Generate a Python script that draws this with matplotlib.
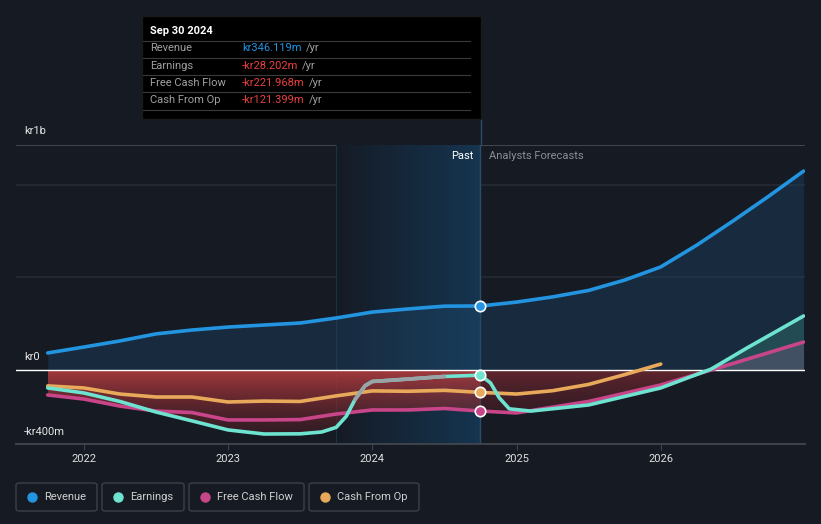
import numpy as np
import matplotlib
matplotlib.use("Agg")
import matplotlib.pyplot as plt
from matplotlib.patches import Rectangle, FancyBboxPatch, Polygon
from matplotlib.lines import Line2D
from matplotlib.colors import LinearSegmentedColormap

plt.rcParams['font.family'] = ['Roboto', 'DejaVu Sans']

# ---- data (kr millions, x in decimal years) ----
rev_x = [2021.75, 2022.0, 2022.25, 2022.5, 2022.75, 2023.0, 2023.25, 2023.5, 2023.75,
         2024.0, 2024.25, 2024.5, 2024.75, 2025.0, 2025.25, 2025.5, 2025.75, 2026.0,
         2026.25, 2026.5, 2026.75, 2026.99]
rev_y = [92, 124, 157, 195, 216, 232, 243, 254, 281, 313, 330, 345, 346, 367, 395, 430,
         486, 557, 675, 805, 940, 1075]

earn_x = [2021.75, 2022.0, 2022.25, 2022.5, 2022.75, 2023.0, 2023.25, 2023.5, 2023.65,
          2023.75, 2023.82, 2023.88, 2023.95, 2024.0, 2024.25, 2024.5, 2024.75, 2024.82,
          2024.88, 2024.95, 2025.1, 2025.5, 2026.0, 2026.35, 2026.6, 2026.99]
earn_y = [-97, -124, -170, -227, -275, -324, -346, -345, -335, -310, -250, -160, -85, -62,
          -49, -35, -28, -70, -150, -210, -222, -189, -97, 5, 120, 292]

fcf_x = [2021.75, 2022.0, 2022.25, 2022.5, 2022.75, 2023.0, 2023.25, 2023.5, 2023.75,
         2024.0, 2024.25, 2024.5, 2024.75, 2025.0, 2025.5, 2026.0, 2026.5, 2026.99]
fcf_y = [-135, -157, -195, -222, -230, -270, -270, -268, -238, -216, -216, -208, -222,
         -232, -170, -81, 35, 151]

cfo_x = [2021.75, 2022.0, 2022.25, 2022.5, 2022.75, 2023.0, 2023.25, 2023.5, 2023.75,
         2024.0, 2024.25, 2024.5, 2024.75, 2025.0, 2025.25, 2025.5, 2025.75, 2026.0]
cfo_y = [-86, -97, -130, -146, -146, -173, -168, -170, -140, -113, -115, -110, -121,
         -130, -112, -78, -25, 32]

past_start, past_end = 2023.75, 2024.75
year_ticks = [2022, 2023, 2024, 2025, 2026]

tip_date = "Sep 30 2024"
tip_rows = [("Revenue", "kr346.119m", "#2394e0"),
            ("Earnings", "-kr28.202m", "#e8403f"),
            ("Free Cash Flow", "-kr221.968m", "#e8403f"),
            ("Cash From Op", "-kr121.399m", "#e8403f")]

C_REV, C_EARN, C_FCF, C_CFO = "#2394e0", "#6de3d0", "#c8458a", "#e8aa5a"
BG = "#151a23"

W, H = 821, 524
fig = plt.figure(figsize=(W / 100, H / 100), dpi=100, facecolor=BG)

def fx(px):
    return px / W

def fy(py):
    return 1 - py / H

ax = fig.add_axes([fx(16), fy(444), fx(805) - fx(16), fy(145) - fy(444)])
ax.set_facecolor(BG)
ax.set_xlim(2021.53, 2027.0)
ax.set_ylim(-400, 1216)
for s in ax.spines.values():
    s.set_visible(False)

# gridlines
ax.axhline(1216, color="#4a4e56", lw=1.2, zorder=1)
for g in [1000, 500]:
    ax.axhline(g, color="#252b35", lw=1.2, zorder=1)

# past shaded region (horizontal gradient)
grad = np.linspace(0, 1, 256).reshape(1, -1)
cm_past = LinearSegmentedColormap.from_list("p", ["#151b25", "#163550"])
ax.imshow(grad, extent=[past_start, past_end, -400, 1216], aspect="auto",
          cmap=cm_past, zorder=1, interpolation="bicubic")
ax.axvline(past_start, color="#1a3045", lw=0.8, zorder=2)
ax.axvline(past_end, color="#2a4e6a", lw=1.0, zorder=2)
fig.lines.append(Line2D([fx(481), fx(481)], [fy(119), fy(145)], transform=fig.transFigure,
                        color="#2a4e6a", lw=1.0))

# revenue area
ax.fill_between(rev_x, 0, rev_y, color="#1f4a70", alpha=0.35, lw=0, zorder=2)

# negative area gradient (red)
xs_all = np.array(sorted(set(earn_x) | set(fcf_x) | set(cfo_x)))
lo = np.minimum(np.interp(xs_all, earn_x, earn_y), np.interp(xs_all, fcf_x, fcf_y))
lo = np.minimum(lo, np.where(xs_all <= cfo_x[-1], np.interp(xs_all, cfo_x, cfo_y), 0))
lo = np.minimum(lo, 0)
vgrad = np.linspace(0, 1, 256).reshape(-1, 1)
cm_red = LinearSegmentedColormap.from_list("r", [(0.66, 0.23, 0.24, 0.97), (0.36, 0.12, 0.15, 0.35)])
cm_red2 = LinearSegmentedColormap.from_list("r2", [(0.45, 0.16, 0.19, 0.8), (0.28, 0.10, 0.13, 0.25)])
for (a, b, cm) in [(xs_all[0], past_end, cm_red), (past_end, xs_all[-1], cm_red2)]:
    m = (xs_all >= a) & (xs_all <= b)
    px = xs_all[m]
    py = lo[m]
    poly = Polygon(np.column_stack([np.r_[px, px[::-1]], np.r_[py, np.zeros_like(py)]]),
                   closed=True, facecolor="none", edgecolor="none")
    ax.add_patch(poly)
    im = ax.imshow(vgrad, extent=[a, b, -360, 0], aspect="auto", cmap=cm,
                   zorder=2, interpolation="bicubic")
    im.set_clip_path(poly)

# positive fills for forecast earnings / fcf
ex, ey = np.array(earn_x), np.array(earn_y)
ax.fill_between(ex, 0, ey, where=ey > 0, interpolate=True, color="#3a8a80", alpha=0.35, lw=0, zorder=2)
fcx, fcy = np.array(fcf_x), np.array(fcf_y)
ax.fill_between(fcx, 0, fcy, where=fcy > 0, interpolate=True, color="#7a5a80", alpha=0.35, lw=0, zorder=2)

# zero line
ax.axhline(0, color="#ffffff", lw=1.0, zorder=3)

# series lines
lw = 2.6
kw = dict(lw=lw, solid_capstyle="round", solid_joinstyle="round")
ax.plot(rev_x, rev_y, color=C_REV, zorder=5, **kw)
ax.plot(fcf_x, fcf_y, color=C_FCF, zorder=5, **kw)
ax.plot(cfo_x, cfo_y, color=C_CFO, zorder=5, **kw)
ax.plot(earn_x, earn_y, color=C_EARN, zorder=6, **kw)
grey = [(x, y) for x, y in zip(earn_x, earn_y) if 2023.88 <= x <= 2024.6]
ax.plot([g[0] for g in grey], [g[1] for g in grey], color="#9aa3a6", zorder=6, **kw)

# dots at tooltip date
for xs, ys, c in [(rev_x, rev_y, C_REV), (earn_x, earn_y, C_EARN),
                  (fcf_x, fcf_y, C_FCF), (cfo_x, cfo_y, C_CFO)]:
    ax.plot([past_end], [np.interp(past_end, xs, ys)], "o", ms=7.5, color=c,
            mec="white", mew=1.2, zorder=8)

# x axis
ax.axhline(-400, color="#3f444c", lw=1.4, zorder=3, clip_on=False)
ax.set_xticks(year_ticks)
ax.set_xticklabels([str(y) for y in year_ticks], color="#e0e0e0", fontsize=8)
ax.tick_params(axis="x", length=4, color="#3f444c", pad=3)
ax.set_yticks([])

# y labels
fig.text(fx(24), fy(131), "kr1b", color="#e6e6e6", fontsize=8, va="center")
fig.text(fx(24), fy(357), "kr0", color="#e6e6e6", fontsize=8, va="center")
fig.text(fx(24), fy(432), "-kr400m", color="#e6e6e6", fontsize=8, va="center")

# Past / forecast labels
fig.text(fx(473), fy(156), "Past", color="#ffffff", fontsize=8, ha="right", va="center")
fig.text(fx(489), fy(156), "Analysts Forecasts", color="#8a8f96", fontsize=8, ha="left", va="center")

# tooltip
fig.patches.append(Rectangle((fx(142), fy(119)), fx(481) - fx(142), fy(16) - fy(119),
                             transform=fig.transFigure, facecolor="#000000",
                             edgecolor="#1a1a1a", lw=1, zorder=10))
fig.text(fx(150), fy(31), tip_date, color="#ffffff", fontsize=8, fontweight="bold",
         va="center", zorder=11)
renderer = fig.canvas.get_renderer()
row_y = [48, 66, 83, 100]
for i, (lab, val, c) in enumerate(tip_rows):
    fig.text(fx(150), fy(row_y[i]), lab, color="#a0a0a0", fontsize=8, va="center", zorder=11)
    t = fig.text(fx(242), fy(row_y[i]), val, color=c, fontsize=8, va="center", zorder=11)
    bb = t.get_window_extent(renderer)
    fig.text(fx(bb.x1 + 4), fy(row_y[i]), "/yr", color="#a0a0a0", fontsize=8, va="center", zorder=11)
for ly in [41, 58, 75, 92, 110]:
    fig.lines.append(Line2D([fx(143), fx(470)], [fy(ly), fy(ly)], transform=fig.transFigure,
                            color="#3a3a3a", lw=0.8, zorder=11))

# legend boxes
legend = [("Revenue", C_REV, 16, 97), ("Earnings", C_EARN, 102, 184),
          ("Free Cash Flow", C_FCF, 189, 304), ("Cash From Op", C_CFO, 309, 419)]
for lab, c, x0, x1 in legend:
    fig.patches.append(FancyBboxPatch((fx(x0), fy(511)), fx(x1) - fx(x0), fy(483) - fy(511),
                                      boxstyle="round,pad=0,rounding_size=0.004",
                                      transform=fig.transFigure, facecolor="none",
                                      edgecolor="#3c4049", lw=1))
    fig.lines.append(Line2D([fx(x0 + 16)], [fy(497)], marker="o", ms=6.5, color=c,
                            transform=fig.transFigure, lw=0))
    fig.text(fx(x0 + 28), fy(497), lab, color="#d0d0d0", fontsize=8, va="center")

fig.savefig("out.png", dpi=100, facecolor=BG)
